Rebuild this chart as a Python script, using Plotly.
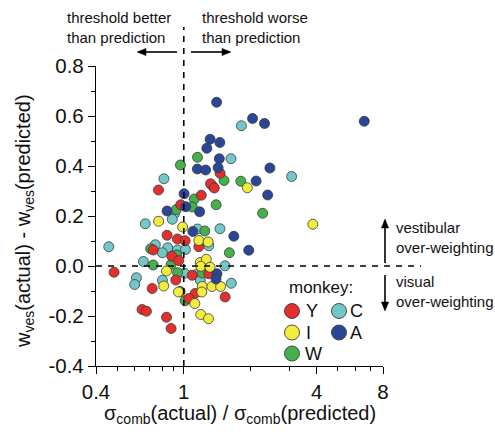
import plotly.graph_objects as go

# ---------------- data ----------------
monkeys = ["Y", "I", "W", "C", "A"]
colors = ["#e3302f", "#f2ec3c", "#46b04a", "#74c7c9", "#2b4696"]

y_x = [1.461, 1.322, 1.375, 0.768, 1.200, 0.969, 0.840, 0.936, 1.014, 1.170, 0.727, 0.882, 0.483,
       0.920, 1.091, 1.298, 0.719, 0.962, 1.125, 1.054, 1.540, 0.647, 0.677, 0.835, 0.876, 0.949]
y_y = [0.371, 0.329, 0.312, 0.304, 0.283, 0.245, 0.123, 0.108, 0.101, 0.077, 0.064, 0.039, -0.025,
       -0.056, -0.037, -0.031, -0.090, -0.102, -0.110, -0.130, -0.124, -0.174, -0.181, -0.205, -0.250, 0.022]

i_x = [1.941, 0.769, 0.988, 1.170, 1.289, 3.848, 1.188, 1.265, 1.194, 1.316, 0.835, 0.811, 1.213,
       1.342, 1.469, 0.946, 1.207, 1.122, 1.194, 1.294]
i_y = [0.313, 0.179, 0.156, 0.102, 0.096, 0.167, 0.014, 0.027, -0.001, -0.005, -0.020, -0.080, -0.082,
       -0.082, -0.082, -0.104, -0.104, -0.150, -0.194, -0.211]

w_x = [1.154, 0.966, 1.522, 1.814, 1.351, 1.116, 1.402, 1.093, 0.925, 2.278, 1.245, 0.708, 1.609,
       0.929, 0.726, 0.876, 0.937, 1.211, 1.014]
w_y = [0.435, 0.404, 0.342, 0.339, 0.320, 0.268, 0.245, 0.236, 0.226, 0.211, 0.140, 0.069, 0.053,
       0.044, 0.004, 0.006, -0.027, -0.028, -0.139]

c_x = [1.824, 1.637, 3.081, 0.813, 0.907, 0.887, 0.669, 1.154, 1.459, 1.298, 0.457, 0.743, 0.846,
       0.799, 0.936, 1.018, 0.656, 1.538, 1.007, 1.142, 1.188, 1.642, 0.610, 0.599, 0.800]
c_y = [0.561, 0.429, 0.358, 0.349, 0.209, 0.187, 0.169, 0.148, 0.149, 0.081, 0.077, 0.085, 0.073,
       0.053, 0.064, 0.066, 0.018, 0.001, -0.029, -0.034, -0.057, -0.069, -0.047, -0.074, -0.057]

a_x = [1.409, 2.050, 2.323, 6.579, 1.316, 1.457, 1.272, 1.449, 1.152, 1.256, 1.431, 2.456, 2.128,
       1.003, 2.400, 1.021, 0.840, 1.180, 1.099, 1.686, 1.970, 1.414, 1.400]
a_y = [0.655, 0.590, 0.570, 0.579, 0.507, 0.494, 0.471, 0.429, 0.388, 0.384, 0.393, 0.392, 0.340,
       0.289, 0.284, 0.237, 0.220, 0.217, 0.138, 0.119, 0.063, -0.031, -0.052]

series_x = [y_x, i_x, w_x, c_x, a_x]
series_y = [y_y, i_y, w_y, c_y, a_y]

x_tickvals = [0.4, 1, 4, 8]
x_ticktext = ["0.4", "1", "4", "8"]
x_minor = [0.5, 0.6, 0.7, 0.8, 0.9, 2, 3, 5, 6, 7]
y_tickvals = [-0.4, -0.2, 0.0, 0.2, 0.4, 0.6, 0.8]
y_ticktext = ["-0.4", "-0.2", "0.0", "0.2", "0.4", "0.6", "0.8"]

# ---------------- figure ----------------
FONT = "Liberation Sans, Arial, sans-serif"
W, H = 495, 435
L, R, T, B = 96, 112, 66, 69
pw, ph = W - L - R, H - T - B


def px(xp):
    return (xp - L) / pw


def py(yp):
    return (H - B - yp) / ph


fig = go.Figure()
draw_order = [3, 2, 0, 1, 4]
for k in draw_order:
    fig.add_trace(go.Scatter(
        x=series_x[k], y=series_y[k], mode="markers", name=monkeys[k],
        marker=dict(size=10, color=colors[k], line=dict(color="#3a3a3a", width=0.8)),
        showlegend=False, cliponaxis=False))

shapes = []
# dashed reference lines
shapes.append(dict(type="line", xref="x", yref="paper", x0=1, x1=1, y0=0, y1=py(27),
                   line=dict(color="black", width=1.6, dash="6px,6px")))
shapes.append(dict(type="line", xref="paper", yref="y", x0=0, x1=px(421), y0=0, y1=0,
                   line=dict(color="black", width=1.6, dash="6px,6px")))

# custom legend markers
leg_pos = [(292, 311), (292, 332.5), (292, 353.5), (339, 311), (339, 332.5)]
lab_pos = [(304, 311), (304, 332.5), (303, 353.5), (348, 311), (348, 332.5)]
annotations = []
for k in range(5):
    cx, cy = leg_pos[k]
    shapes.append(dict(type="circle", xref="paper", yref="paper", xsizemode="pixel", ysizemode="pixel",
                       xanchor=px(cx), yanchor=py(cy), x0=-7.5, x1=7.5, y0=-7.5, y1=7.5,
                       fillcolor=colors[k], line=dict(color="#3a3a3a", width=0.9)))
    lx, ly = lab_pos[k]
    annotations.append(dict(text=monkeys[k], xref="paper", yref="paper", x=px(lx), y=py(ly),
                            xanchor="left", yanchor="middle", showarrow=False,
                            font=dict(family=FONT, size=18, color="#111")))

annotations.append(dict(text="monkey:", xref="paper", yref="paper", x=px(355), y=py(287),
                        xanchor="right", yanchor="middle", showarrow=False,
                        font=dict(family=FONT, size=17, color="#111")))

# text annotations
txt_font = dict(family=FONT, size=15, color="#111")
annotations += [
    dict(text="threshold better<br>than prediction", xref="paper", yref="paper", x=px(65), y=py(28),
         xanchor="left", yanchor="middle", align="left", showarrow=False, font=txt_font),
    dict(text="threshold worse<br>than prediction", xref="paper", yref="paper", x=px(200), y=py(28),
         xanchor="left", yanchor="middle", align="left", showarrow=False, font=txt_font),
    dict(text="vestibular<br>over-weighting", xref="paper", yref="paper", x=px(394), y=py(237.5),
         xanchor="left", yanchor="middle", align="left", showarrow=False, font=txt_font),
    dict(text="visual<br>over-weighting", xref="paper", yref="paper", x=px(394), y=py(291),
         xanchor="left", yanchor="middle", align="left", showarrow=False, font=txt_font),
]


# arrows drawn as shapes (anchor = arrow tip, offsets in pixels, +y up)
def arrow(tip_x, tip_y, dx, dy, length):
    hl, hw = 9, 3.6
    # unit direction from tip to tail
    tx, ty = dx * length, dy * length
    bx, by = dx * hl, dy * hl
    nx, ny = -dy * hw, dx * hw
    common = dict(xref="paper", yref="paper", xsizemode="pixel", ysizemode="pixel",
                  xanchor=px(tip_x), yanchor=py(tip_y))
    shapes.append(dict(type="line", x0=bx, y0=by, x1=tx, y1=ty,
                       line=dict(color="black", width=1.6), **common))
    shapes.append(dict(type="path",
                       path=f"M0,0 L{bx + nx},{by + ny} L{bx - nx},{by - ny} Z",
                       fillcolor="black", line=dict(color="black", width=0.5), **common))


arrow(137, 52, 1, 0, 40)
arrow(231, 52, -1, 0, 40)
arrow(385, 219, 0, -1, 44)
arrow(385, 311, 0, 1, 36)

# axis titles
title_font = dict(family=FONT, size=20, color="#111")
annotations += [
    dict(text="σ<sub>comb</sub>(actual) / σ<sub>comb</sub>(predicted)", xref="paper", yref="paper",
         x=px(240), y=py(414), xanchor="center", yanchor="middle", showarrow=False, font=title_font),
    dict(text="w<sub>ves</sub>(actual) - w<sub>ves</sub>(predicted)", xref="paper", yref="paper",
         x=px(25), y=py(221), xanchor="center", yanchor="middle", textangle=-90, showarrow=False,
         font=title_font),
]

tick_font = dict(family=FONT, size=20.5, color="#111")
fig.update_layout(
    width=W, height=H, margin=dict(l=L, r=R, t=T, b=B, pad=0),
    paper_bgcolor="white", plot_bgcolor="white",
    shapes=shapes, annotations=annotations,
    xaxis=dict(type="log", range=[-0.39794, 0.90309], showgrid=False, zeroline=False,
               showline=True, linecolor="black", linewidth=1.3, mirror=False,
               ticks="outside", ticklen=7, tickwidth=1.3, tickcolor="black",
               tickmode="array", tickvals=x_tickvals, ticktext=x_ticktext, tickfont=tick_font,
               minor=dict(tickmode="array", tickvals=x_minor, ticks="outside", ticklen=4,
                          tickwidth=1.2, tickcolor="black", showgrid=False)),
    yaxis=dict(range=[-0.4, 0.8], showgrid=False, zeroline=False,
               showline=True, linecolor="black", linewidth=1.3, mirror=False,
               ticks="outside", ticklen=7, tickwidth=1.3, tickcolor="black",
               tickmode="array", tickvals=y_tickvals, ticktext=y_ticktext, tickfont=tick_font,
               minor=dict(dtick=0.1, ticks="outside", ticklen=4, tickwidth=1.2, tickcolor="black",
                          showgrid=False)),
    showlegend=False,
)

fig.write_html("out.html")
